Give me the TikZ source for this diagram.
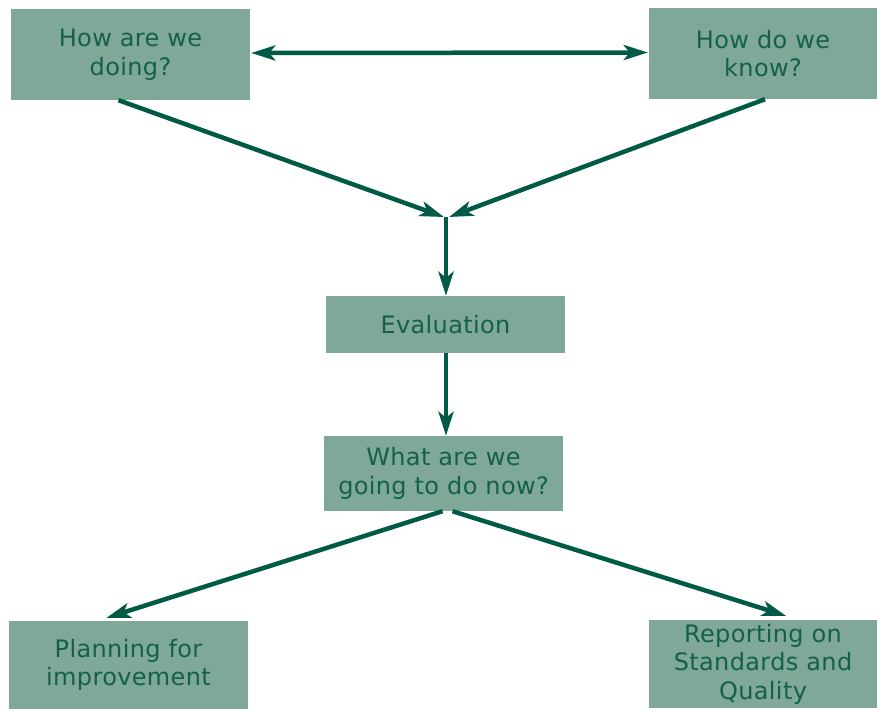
\documentclass[tikz,border=0pt]{standalone}
\usepackage{fontspec}
\setmainfont{DejaVu Sans}[LetterSpace=1.5]
\usetikzlibrary{arrows.meta,calc}
\definecolor{boxfill}{HTML}{7FA898}
\definecolor{txt}{HTML}{13604C}
\definecolor{arr}{HTML}{005A46}
\tikzset{
  boxnode/.style={rectangle, fill=boxfill, draw=none, text=txt, align=center, inner sep=0pt,
    font=\fontsize{24}{28.5}\selectfont},
  conn/.style={draw=arr, line width=4.5pt, -{Stealth[length=24pt,width=15pt,inset=6pt]}},
  dconn/.style={draw=arr, line width=4.5pt, {Stealth[length=24pt,width=15pt,inset=6pt]}-{Stealth[length=24pt,width=15pt,inset=6pt]}}
}
\begin{document}
\begin{tikzpicture}[x=1pt,y=-1pt]
\useasboundingbox (0,0) rectangle (877,710);
\node[boxnode, minimum width=239pt, minimum height=91pt] (A) at (130.5,54.5) {How are we\\doing?};
\node[boxnode, minimum width=228pt, minimum height=91pt] (B) at (763,53.5) {How do we\\know?};
\node[boxnode, minimum width=239pt, minimum height=57pt] (E) at (445.5,324.5) {Evaluation};
\node[boxnode, minimum width=239pt, minimum height=75pt] (W) at (443.5,473.5) {What are we\\going to do now?};
\node[boxnode, minimum width=239pt, minimum height=88pt] (P) at (128.5,665) {Planning for\\improvement};
\node[boxnode, minimum width=228pt, minimum height=88pt] (R) at (763,664) {Reporting on\\Standards and\\Quality};
\coordinate (J) at (446,217);
% double arrow between top boxes
\draw[dconn] ([xshift=1pt,yshift=1.5pt]A.east) -- ([xshift=-1pt,yshift=1pt]B.west);
% converging arrows
\draw[conn] ([xshift=-12pt]A.south) -- ([xshift=-2pt]J);
\draw[conn] ([xshift=2pt]B.south) -- ([xshift=3pt]J);
\draw[conn] (J) -- (J |- E.north);
\draw[conn] (E.south -| J) -- (J |- W.north);
% diverging arrows
\draw[conn] ([xshift=-1pt]W.south) -- ([xshift=-22pt,yshift=3pt]P.north);
\draw[conn] ([xshift=9pt]W.south) -- ([xshift=23pt,yshift=4pt]R.north);
\end{tikzpicture}
\end{document}
